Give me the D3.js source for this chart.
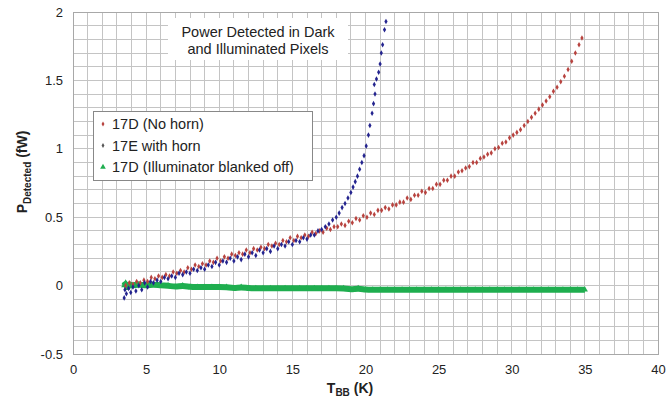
<!DOCTYPE html>
<meta charset="utf-8">
<html>
<head>
<style>
  body { margin: 0; background: #fff; }
  svg { font-family: "Liberation Sans", Arial, sans-serif; }
  .tick-label { font-size: 13px; fill: #222; }
</style>
</head>
<body>
<script src="https://cdn.jsdelivr.net/npm/d3@7"></script>
<script>
// ---- data ----
var xTicks = [0, 5, 10, 15, 20, 25, 30, 35, 40];
var yTicks = [-0.5, 0, 0.5, 1, 1.5, 2];
var yTickLabels = ["-0.5", "0", "0.5", "1", "1.5", "2"];
var seriesNames = ["17D (No horn)", "17E with horn", "17D (Illuminator blanked off)"];

// 17D (No horn): [T_BB, P]
var noHorn = [
  [3.6,0.00],[3.85,0.02],[4.1,0.01],[4.35,0.03],[4.6,0.02],[4.85,0.04],[5.1,0.03],[5.35,0.06],
  [5.6,0.05],[5.85,0.07],[6.1,0.06],[6.35,0.08],[6.6,0.07],[6.85,0.10],[7.1,0.09],[7.35,0.11],
  [7.6,0.10],[7.85,0.13],[8.1,0.12],[8.35,0.15],[8.6,0.14],[8.85,0.16],[9.1,0.15],[9.35,0.18],
  [9.6,0.17],[9.85,0.20],[10.1,0.18],[10.35,0.21],[10.6,0.20],[10.85,0.23],[11.1,0.22],[11.35,0.24],
  [11.6,0.23],[11.85,0.26],[12.1,0.24],[12.35,0.27],[12.6,0.26],[12.85,0.28],[13.1,0.27],[13.35,0.30],
  [13.6,0.29],[13.85,0.31],[14.1,0.30],[14.35,0.33],[14.6,0.32],[14.85,0.35],[15.1,0.33],[15.35,0.36],
  [15.6,0.35],[15.85,0.37],[16.1,0.36],[16.35,0.39],[16.6,0.38],[16.85,0.40],[17.1,0.39],[17.35,0.42],
  [17.6,0.41],[17.85,0.43],[18.1,0.43],[18.35,0.45],[18.6,0.44],[18.85,0.47],[19.1,0.46],[19.35,0.49],
  [19.6,0.48],[19.85,0.51],[20.1,0.50],[20.35,0.53],[20.6,0.52],[20.85,0.55],[21.1,0.55],[21.35,0.57],
  [21.6,0.56],[21.85,0.59],[22.1,0.59],[22.35,0.61],[22.6,0.61],[22.85,0.64],[23.1,0.63],[23.35,0.66],
  [23.6,0.66],[23.85,0.69],[24.1,0.68],[24.35,0.71],[24.6,0.71],[24.85,0.74],[25.1,0.74],[25.35,0.77],
  [25.6,0.77],[25.85,0.80],[26.1,0.80],[26.35,0.83],[26.6,0.84],[26.85,0.86],[27.1,0.87],[27.35,0.90],
  [27.6,0.90],[27.85,0.93],[28.1,0.94],[28.35,0.96],[28.6,0.97],[28.85,1.00],[29.1,1.01],[29.35,1.04],
  [29.6,1.05],[29.85,1.08],[30.1,1.10],[30.35,1.12],[30.6,1.14],[30.85,1.17],[31.1,1.20],[31.35,1.23],
  [31.6,1.26],[31.85,1.29],[32.1,1.32],[32.35,1.35],[32.6,1.38],[32.85,1.42],[33.1,1.45],[33.35,1.49],
  [33.6,1.53],[33.85,1.58],[34.1,1.64],[34.35,1.70],[34.6,1.76],[34.8,1.81]
];

// 17E with horn
var withHorn = [
  [3.5,-0.09],[3.55,-0.03],[3.65,-0.06],[3.8,-0.02],[3.95,-0.05],[4.1,-0.01],[4.3,-0.04],[4.5,0.00],
  [4.7,-0.03],[4.9,0.02],[5.1,-0.01],[5.3,0.03],[5.5,0.02],[5.75,0.04],[6.0,0.03],[6.25,0.06],
  [6.5,0.05],[6.75,0.07],[7.0,0.06],[7.25,0.09],[7.5,0.08],[7.75,0.10],[8.0,0.09],[8.25,0.12],
  [8.5,0.11],[8.75,0.13],[9.0,0.12],[9.25,0.15],[9.5,0.14],[9.75,0.17],[10.0,0.15],[10.25,0.18],
  [10.5,0.17],[10.75,0.20],[11.0,0.18],[11.25,0.21],[11.5,0.19],[11.75,0.23],[12.0,0.21],[12.25,0.24],
  [12.5,0.22],[12.75,0.26],[13.0,0.24],[13.25,0.27],[13.5,0.25],[13.75,0.29],[14.0,0.27],[14.25,0.30],
  [14.5,0.29],[14.75,0.32],[15.0,0.30],[15.25,0.33],[15.5,0.32],[15.75,0.35],[16.0,0.34],[16.25,0.37],
  [16.5,0.37],[16.75,0.40],[17.0,0.41],[17.25,0.43],[17.5,0.45],[17.75,0.48],[18.0,0.50],[18.2,0.53],
  [18.4,0.57],[18.6,0.60],[18.8,0.64],[19.0,0.68],[19.15,0.72],[19.3,0.76],[19.45,0.80],[19.6,0.85],
  [19.75,0.90],[19.9,0.95],[20.05,1.02],[20.2,1.10],[20.3,1.17],[20.45,1.26],[20.55,1.33],[20.65,1.40],
  [20.6,1.47],[20.75,1.51],[20.9,1.56],[21.0,1.62],[21.08,1.70],[21.17,1.76],[21.3,1.87],[21.4,1.93]
];

// 17D (Illuminator blanked off)
var blanked = [
  [3.5,0.00],[3.6,0.02],[3.7,-0.02],[3.9,0.01],[4.0,0.00],[4.5,0.01],[5.0,0.00],[5.5,0.01],
  [6.0,0.00],[6.5,0.00],[7.0,-0.01],[7.5,0.00],[8.0,-0.01],[8.5,-0.01],[9.0,-0.01],[9.5,-0.01],
  [10.0,-0.01],[10.5,-0.01],[11.0,-0.02],[11.5,-0.01],[12.0,-0.02],[12.5,-0.02],[13.0,-0.02],[13.5,-0.02],
  [14.0,-0.02],[14.5,-0.02],[15.0,-0.02],[15.5,-0.02],[16.0,-0.02],[16.5,-0.02],[17.0,-0.02],[17.5,-0.02],
  [18.0,-0.02],[18.5,-0.02],[19.0,-0.03],[19.5,-0.02],[20.0,-0.03],[20.5,-0.03],[21.0,-0.03],[21.5,-0.03],
  [22.0,-0.03],[22.5,-0.03],[23.0,-0.03],[23.5,-0.03],[24.0,-0.03],[24.5,-0.03],[25.0,-0.03],[25.5,-0.03],
  [26.0,-0.03],[26.5,-0.03],[27.0,-0.03],[27.5,-0.03],[28.0,-0.03],[28.5,-0.03],[29.0,-0.03],[29.5,-0.03],
  [30.0,-0.03],[30.5,-0.03],[31.0,-0.03],[31.5,-0.03],[32.0,-0.03],[32.5,-0.03],[33.0,-0.03],[33.5,-0.03],
  [34.0,-0.03],[34.5,-0.03],[35.0,-0.03]
];

var colors = ["#b8433f", "#24248f", "#1fae4f"];

// ---- layout ----
var W = 666, H = 402;
var plotL = 73, plotR = 658, plotT = 12, plotB = 354;

var x = d3.scaleLinear().domain([0, 40]).range([plotL, plotR]);
var y = d3.scaleLinear().domain([-0.5, 2]).range([plotB, plotT]);

var svg = d3.select("body").append("svg")
    .attr("width", W)
    .attr("height", H);

// grid, 1 K by 0.1 fW
var grid = svg.append("g").attr("shape-rendering", "crispEdges");
grid.selectAll("line.v")
    .data(d3.range(0, 41))
    .enter().append("line")
    .attr("x1", function(d) { return x(d); })
    .attr("x2", function(d) { return x(d); })
    .attr("y1", plotT).attr("y2", plotB)
    .style("stroke", "#c4c4c4");
grid.selectAll("line.h")
    .data(d3.range(-5, 21).map(function(d) { return d / 10; }))
    .enter().append("line")
    .attr("y1", function(d) { return y(d); })
    .attr("y2", function(d) { return y(d); })
    .attr("x1", plotL).attr("x2", plotR)
    .style("stroke", "#c4c4c4");
svg.append("rect")
    .attr("x", plotL).attr("y", plotT)
    .attr("width", plotR - plotL).attr("height", plotB - plotT)
    .attr("shape-rendering", "crispEdges")
    .style("fill", "none").style("stroke", "#a8a8a8");

// axes (labels only, like the original)
var xAxis = svg.append("g")
    .attr("transform", "translate(0," + plotB + ")")
    .call(d3.axisBottom(x).tickValues(xTicks).tickSize(0).tickPadding(11));
xAxis.select(".domain").remove();
xAxis.selectAll("text").attr("class", "tick-label").attr("font-size", null).attr("font-family", null);

var yAxis = svg.append("g")
    .attr("transform", "translate(" + plotL + ",0)")
    .call(d3.axisLeft(y).tickValues(yTicks).tickSize(0).tickPadding(10)
      .tickFormat(function(d, i) { return yTickLabels[i]; }));
yAxis.select(".domain").remove();
yAxis.selectAll("text").attr("class", "tick-label").attr("font-size", null).attr("font-family", null);

// title box
svg.append("rect")
    .attr("x", 168).attr("y", 18).attr("width", 180).attr("height", 42)
    .style("fill", "#fff");
var title = svg.append("text")
    .attr("text-anchor", "middle")
    .style("font-size", "14.5px").style("fill", "#222");
title.append("tspan").attr("x", 258).attr("y", 37).text("Power Detected in Dark");
title.append("tspan").attr("x", 258).attr("y", 54).text("and Illuminated Pixels");

// data
var plot = svg.append("g");

plot.append("path")
    .datum(blanked)
    .attr("d", d3.line().curve(d3.curveBasis)
      .x(function(d) { return x(d[0]); }).y(function(d) { return y(d[1]); }))
    .style("fill", "none").style("stroke", colors[2]).style("stroke-width", 6)
    .style("stroke-linejoin", "round");
plot.selectAll("path.g")
    .data(blanked)
    .enter().append("path")
    .attr("d", d3.symbol().type(d3.symbolTriangle).size(16))
    .attr("transform", function(d) { return "translate(" + x(d[0]) + "," + y(d[1]) + ")"; })
    .style("fill", colors[2]);

plot.selectAll("path.r")
    .data(noHorn)
    .enter().append("path")
    .attr("d", d3.symbol().type(d3.symbolDiamond).size(9))
    .attr("transform", function(d) { return "translate(" + x(d[0]) + "," + y(d[1]) + ")"; })
    .style("fill", colors[0]);

plot.selectAll("path.b")
    .data(withHorn)
    .enter().append("path")
    .attr("d", d3.symbol().type(d3.symbolDiamond).size(9))
    .attr("transform", function(d) { return "translate(" + x(d[0]) + "," + y(d[1]) + ")"; })
    .style("fill", colors[1]);

// legend
var legend = svg.append("g");
legend.append("rect")
    .attr("x", 93.5).attr("y", 111.5).attr("width", 219).attr("height", 69)
    .style("fill", "#fff").style("stroke", "#888");
var entries = legend.selectAll("g.entry")
    .data(seriesNames)
    .enter().append("g")
    .attr("transform", function(d, i) { return "translate(0," + (129 + i * 21.5) + ")"; });
entries.append("path")
    .attr("d", function(d, i) {
      return d3.symbol().type(i == 2 ? d3.symbolTriangle : d3.symbolDiamond).size(i == 2 ? 14 : 7)();
    })
    .attr("transform", "translate(103,-5)")
    .style("fill", function(d, i) { return i == 1 ? "#555" : colors[i]; });
entries.append("text")
    .attr("x", 112)
    .style("font-size", "14.5px").style("fill", "#222")
    .text(function(d) { return d; });

// axis titles
var xt = svg.append("text")
    .attr("x", 350).attr("y", 393)
    .attr("text-anchor", "middle")
    .style("font-weight", "bold").style("font-size", "14px").style("fill", "#222");
xt.append("tspan").text("T");
xt.append("tspan").attr("dy", 3).style("font-size", "10px").text("BB");
xt.append("tspan").attr("dy", -3).text(" (K)");

var yt = svg.append("text")
    .attr("transform", "translate(27,172) rotate(-90)")
    .attr("text-anchor", "middle")
    .style("font-weight", "bold").style("font-size", "14px").style("fill", "#222");
yt.append("tspan").text("P");
yt.append("tspan").attr("dy", 4).style("font-size", "10px").text("Detected");
yt.append("tspan").attr("dy", -4).text("  (fW)");
</script>
</body>
</html>
